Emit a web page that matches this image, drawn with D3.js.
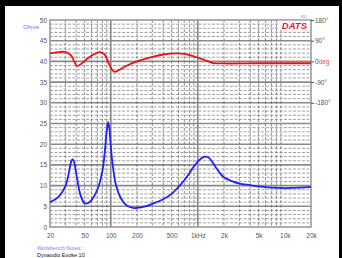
<!DOCTYPE html>
<html>
<head>
<meta charset="utf-8">
<script src="https://cdn.jsdelivr.net/npm/d3@7"></script>
<style>
  body { margin: 0; background: #fff; }
  svg { display: block; font-family: "Liberation Sans", Arial, sans-serif; }
</style>
</head>
<body>
<div id="chart"></div>
<script>
// impedance magnitude (ohms) vs frequency
const zFreq = [20, 25, 30, 33, 35, 36.5, 38, 40, 45, 50, 55, 60, 70, 80, 86, 90, 93, 96, 100, 105, 115, 130, 150, 180,
  200, 250, 300, 400, 500, 600, 700, 800, 900, 1000, 1100, 1200, 1300, 1400, 1600, 1800, 2000,
  2500, 3000, 4000, 5000, 7000, 10000, 15000, 20000];
const zOhms = [6.0, 7.3, 9.8, 13.2, 15.8, 16.4, 15.6, 13.0, 7.6, 5.7, 5.8, 6.5, 9.0, 13.5, 19.0, 23.5, 25.3, 24.0, 19.5, 15.0, 10.0, 7.0, 5.3, 4.6,
  4.6, 5.0, 5.6, 6.7, 8.0, 9.7, 11.3, 13.0, 14.6, 15.8, 16.6, 17.0, 16.9, 16.3, 14.5, 13.0, 12.0,
  11.0, 10.5, 10.1, 9.8, 9.5, 9.4, 9.5, 9.7];

// impedance phase (degrees) vs frequency
const phFreq = [20, 25, 30, 35, 38, 41, 45, 55, 65, 75, 85, 95, 105, 112, 130, 150, 200, 300, 400, 570,
  700, 900, 1200, 1500, 2000, 5000, 10000, 20000];
const phDeg = [35, 40, 41, 25, 0, -20, -12, 15, 32, 40, 30, -10, -40, -45, -33, -20, 0, 20, 30, 35,
  33, 22, 6, -7, -9, -8, -8, -8];

const xTicks = [20, 50, 100, 200, 500, 1000, 2000, 5000, 10000, 20000];
const xTickLabels = ['20', '50', '100', '200', '500', '1kHz', '2k', '5k', '10k', '20k'];
const phTicks = [180, 90, 0, -90, -180];
const phTickLabels = ['180°', '90°', '0', '-90°', '-180°'];

const width = 342;
const height = 258;
const plot = { left: 50, right: 311, top: 20, bottom: 227 };

const x = d3.scaleLog().domain([20, 20000]).range([plot.left, plot.right]);
const y = d3.scaleLinear().domain([0, 50]).range([plot.bottom, plot.top]);
const yPh = d3.scaleLinear().domain([-720, 180]).range([plot.bottom, plot.top]);

const svg = d3.select('#chart').append('svg')
  .attr('width', width)
  .attr('height', height);

// page frame
svg.append('rect').attr('x', 0).attr('y', 0).attr('width', width).attr('height', height).attr('fill', '#000');
svg.append('rect').attr('x', 5).attr('y', 6).attr('width', width - 8).attr('height', height - 6).attr('fill', '#fff');

const grid = svg.append('g');

// horizontal grid: minor every 1 ohm, major every 5
d3.range(1, 50).forEach((v) => {
  const major = v % 5 === 0;
  grid.append('line')
    .attr('x1', plot.left).attr('x2', plot.right)
    .attr('y1', y(v)).attr('y2', y(v))
    .attr('stroke', major ? '#8a8a8a' : '#777')
    .attr('stroke-width', major ? 1.6 : 0.7)
    .attr('stroke-dasharray', major ? null : '3,1.5');
});

// vertical grid: decades solid, others dashed
const vLines = [];
[10, 100, 1000].forEach((dec) => {
  for (let m = 1; m < 10; m += 1) {
    const f = dec * m;
    if (f > 20 && f < 20000) vLines.push(f);
  }
});
vLines.forEach((f) => {
  const major = [100, 1000, 10000].includes(f);
  grid.append('line')
    .attr('x1', x(f)).attr('x2', x(f))
    .attr('y1', plot.top).attr('y2', plot.bottom)
    .attr('stroke', major ? '#8a8a8a' : '#666')
    .attr('stroke-width', major ? 1.6 : 0.7)
    .attr('stroke-dasharray', major ? null : '3,1.5');
});

// plot border
svg.append('rect')
  .attr('x', plot.left).attr('y', plot.top)
  .attr('width', plot.right - plot.left).attr('height', plot.bottom - plot.top)
  .attr('fill', 'none').attr('stroke', '#9a9a9a').attr('stroke-width', 1.6);

// DATS logo box
svg.append('rect').attr('x', 278).attr('y', 20.8).attr('width', 32).attr('height', 9).attr('fill', '#fff');
svg.append('text').attr('x', 307).attr('y', 28.5)
  .attr('text-anchor', 'end')
  .attr('font-size', 9.5).attr('font-weight', 'bold').attr('font-style', 'italic')
  .attr('fill', '#e8173a')
  .text('DATS');
svg.append('text').attr('x', 304).attr('y', 18).attr('text-anchor', 'middle')
  .attr('font-size', 3).attr('fill', '#777').text('V3.1');

// left axis
const axL = svg.append('g')
  .attr('transform', `translate(${plot.left - 2},0)`)
  .call(d3.axisLeft(y).tickValues(d3.range(0, 51, 5)).tickSize(0).tickPadding(1));
axL.select('.domain').remove();
axL.selectAll('text').attr('font-size', 6.5).attr('fill', '#555').attr('font-family', 'Liberation Sans, Arial, sans-serif');

svg.append('text').attr('x', 23).attr('y', 28.5)
  .attr('font-size', 6).attr('fill', '#6f6fff').text('Ohms');

// right (phase) axis
const axR = svg.append('g')
  .attr('transform', `translate(${plot.right},0)`)
  .call(d3.axisRight(yPh).tickValues(phTicks).tickSize(3).tickPadding(1)
    .tickFormat((d, i) => phTickLabels[i]));
axR.select('.domain').remove();
axR.selectAll('line').attr('stroke', '#555');
axR.selectAll('text').attr('font-size', 6.5).attr('fill', '#555').attr('font-family', 'Liberation Sans, Arial, sans-serif');
axR.selectAll('text').filter(d => d === 0)
  .append('tspan').attr('fill', '#ff4a5a').text('deg');

// bottom axis
const axB = svg.append('g')
  .attr('transform', `translate(0,${plot.bottom + 1})`)
  .call(d3.axisBottom(x).tickValues(xTicks).tickSize(0).tickPadding(5)
    .tickFormat((d, i) => xTickLabels[i]));
axB.select('.domain').remove();
axB.selectAll('text').attr('font-size', 6.5).attr('fill', '#555').attr('font-family', 'Liberation Sans, Arial, sans-serif');

// curves
const zLine = d3.line()
  .x((d, i) => x(zFreq[i]))
  .y(d => y(d))
  .curve(d3.curveCatmullRom.alpha(0.5));
svg.append('path').datum(zOhms)
  .attr('d', zLine)
  .attr('fill', 'none').attr('stroke', '#1f1fff').attr('stroke-width', 1.8);

const phLine = d3.line()
  .x((d, i) => x(phFreq[i]))
  .y(d => yPh(d))
  .curve(d3.curveCatmullRom.alpha(0.5));
svg.append('path').datum(phDeg)
  .attr('d', phLine)
  .attr('fill', 'none').attr('stroke', '#ee1111').attr('stroke-width', 1.8);

// notes
svg.append('text').attr('x', 37).attr('y', 250)
  .attr('font-size', 5.5).attr('fill', '#7f7fff').text('Workbench Notes:');
svg.append('text').attr('x', 37).attr('y', 257)
  .attr('font-size', 5.5).attr('fill', '#111').text('Dynaudio Evoke 10');
</script>
</body>
</html>
